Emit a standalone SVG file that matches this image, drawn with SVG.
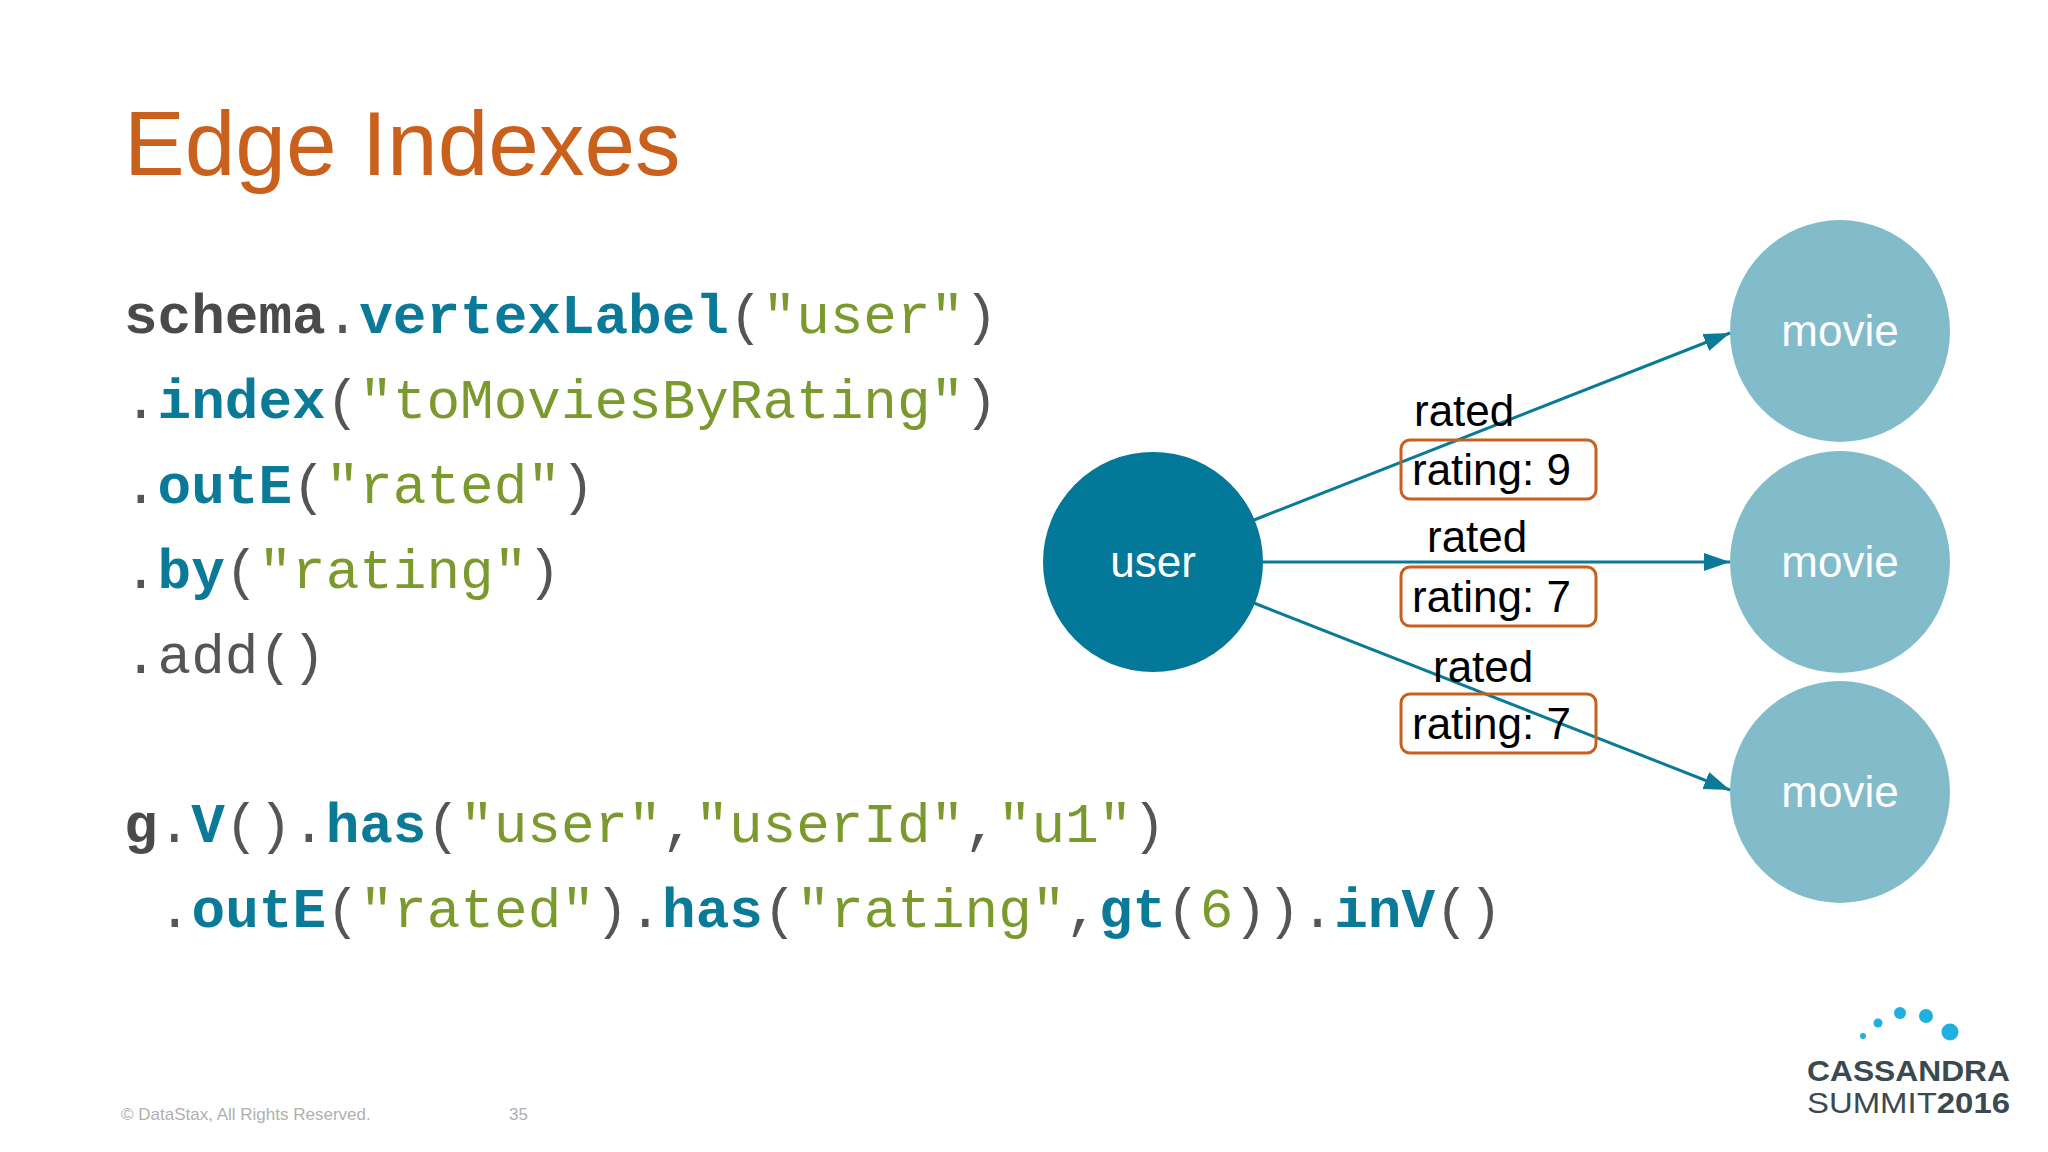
<svg xmlns="http://www.w3.org/2000/svg" width="2048" height="1152" viewBox="0 0 2048 1152">
<defs>
<style>
.code{font-family:"Liberation Mono","Courier New",monospace;font-size:56px;fill:#555;white-space:pre}
.k{fill:#0b7a99;font-weight:bold}
.s{fill:#7b9a2e}
.b{font-weight:bold;fill:#4a4a4a}
.lbl{font-family:"Liberation Sans",Arial,sans-serif;font-size:44px;fill:#000}
.node{font-family:"Liberation Sans",Arial,sans-serif;font-size:44px;fill:#fff;text-anchor:middle}
.box{fill:none;stroke:#c7601e;stroke-width:3}
.edge{stroke:#0b7a99;stroke-width:3;fill:none;marker-end:url(#ah)}
</style>
<marker id="ah" markerWidth="26" markerHeight="18" refX="26" refY="9" orient="auto" markerUnits="userSpaceOnUse" viewBox="0 0 26 18"><path d="M0,0L26,9L0,18z" fill="#0b7a99"/></marker>
</defs>
<rect width="2048" height="1152" fill="#fff"/>
<text x="124" y="175" font-family="Liberation Sans,Arial,sans-serif" font-size="91" fill="#c9601c">Edge Indexes</text>
<g id="code">
<text class="code" x="124" y="333"><tspan class="b">schema</tspan>.<tspan class="k">vertexLabel</tspan>(<tspan class="s">"user"</tspan>)</text>
<text class="code" x="124" y="418">.<tspan class="k">index</tspan>(<tspan class="s">"toMoviesByRating"</tspan>)</text>
<text class="code" x="124" y="503">.<tspan class="k">outE</tspan>(<tspan class="s">"rated"</tspan>)</text>
<text class="code" x="124" y="588">.<tspan class="k">by</tspan>(<tspan class="s">"rating"</tspan>)</text>
<text class="code" x="124" y="673">.add()</text>
<text class="code" x="124" y="842"><tspan class="b">g</tspan>.<tspan class="k">V</tspan>().<tspan class="k">has</tspan>(<tspan class="s">"user"</tspan>,<tspan class="s">"userId"</tspan>,<tspan class="s">"u1"</tspan>)</text>
<text class="code" x="158" y="927">.<tspan class="k">outE</tspan>(<tspan class="s">"rated"</tspan>).<tspan class="k">has</tspan>(<tspan class="s">"rating"</tspan>,<tspan class="k">gt</tspan>(<tspan class="s">6</tspan>)).<tspan class="k">inV</tspan>()</text>
</g>
<g id="user"><circle cx="1153" cy="562" r="110" fill="#037898"/><text class="node" x="1153" y="577">user</text></g>
<g id="movie1"><ellipse cx="1840" cy="331" rx="110" ry="111" fill="#82bccb"/><text class="node" x="1840" y="346">movie</text></g>
<g id="movie2"><ellipse cx="1840" cy="562" rx="110" ry="111" fill="#82bccb"/><text class="node" x="1840" y="577">movie</text></g>
<g id="movie3"><ellipse cx="1840" cy="792" rx="110" ry="111" fill="#82bccb"/><text class="node" x="1840" y="807">movie</text></g>
<g id="connectors">
<line class="edge" x1="1254" y1="520" x2="1730" y2="333"/>
<line class="edge" x1="1263" y1="562" x2="1730" y2="562"/>
<line class="edge" x1="1254" y1="603" x2="1730" y2="790"/>
<text class="lbl" x="1414" y="426">rated</text>
<rect class="box" x="1401" y="440" width="195" height="59" rx="9"/>
<text class="lbl" x="1412" y="485">rating: 9</text>
<text class="lbl" x="1427" y="552">rated</text>
<rect class="box" x="1401" y="567" width="195" height="59" rx="9"/>
<text class="lbl" x="1412" y="612">rating: 7</text>
<text class="lbl" x="1433" y="682">rated</text>
<rect class="box" x="1401" y="694" width="195" height="59" rx="9"/>
<text class="lbl" x="1412" y="739">rating: 7</text>
</g>
<g id="footer" font-family="Liberation Sans,Arial,sans-serif" font-size="17" fill="#b0b0b0">
<text x="121" y="1120">© DataStax, All Rights Reserved.</text>
<text x="509" y="1120">35</text>
</g>
<g id="logo">
<circle cx="1863" cy="1036" r="3" fill="#1fb0e0"/><circle cx="1878" cy="1023" r="4.5" fill="#1fb0e0"/><circle cx="1900" cy="1013" r="6" fill="#1fb0e0"/><circle cx="1926" cy="1016" r="7" fill="#1fb0e0"/><circle cx="1950" cy="1032" r="8.5" fill="#1fb0e0"/>
<text x="1807" y="1081" font-family="Liberation Sans,Arial,sans-serif" font-size="30" font-weight="bold" fill="#3a4a50" textLength="203" lengthAdjust="spacingAndGlyphs">CASSANDRA</text>
<text x="1807" y="1113" font-family="Liberation Sans,Arial,sans-serif" font-size="30" fill="#3a4a50" textLength="203" lengthAdjust="spacingAndGlyphs">SUMMIT<tspan font-weight="bold">2016</tspan></text>
</g>
</svg>
